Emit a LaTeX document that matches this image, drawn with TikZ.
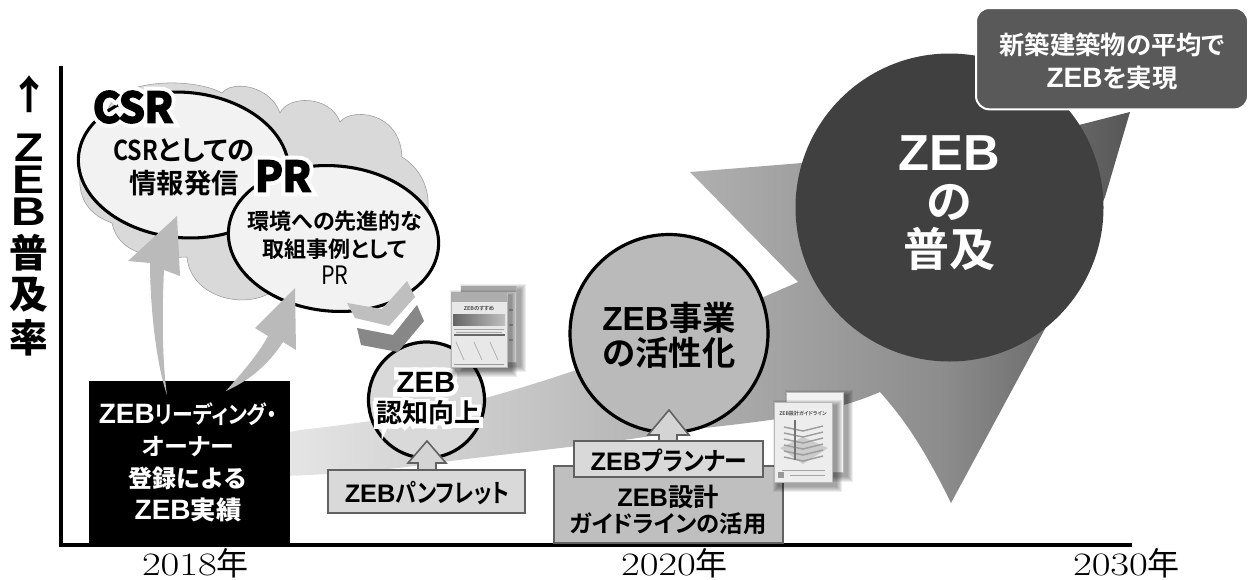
\documentclass[tikz,border=0pt]{standalone}
\usepackage{fontspec}
\usetikzlibrary{shapes.geometric}
\setmainfont{Liberation Sans}
\newfontfamily\jp[RawFeature={+palt},BoldFont={Noto Sans CJK JP Bold}]{Noto Sans CJK JP}
\newfontfamily\jpfull{Noto Sans CJK JP}
\newfontfamily\jph[RawFeature={+palt},UprightFont={Noto Sans CJK JP Bold},FakeBold=30]{Noto Sans CJK JP}
\newfontfamily\jpheavy[UprightFont={Noto Sans CJK JP Bold},FakeBold=5]{Noto Sans CJK JP}
\newfontfamily\jpheavyh[UprightFont={Noto Sans CJK JP Bold},FakeBold=24]{Noto Sans CJK JP}
\newfontfamily\ar{Liberation Sans}
\newfontfamily\arh[UprightFont={Liberation Sans Bold},FakeBold=30]{Liberation Sans}
\newfontfamily\yr[FakeStretch=1.25]{Latin Modern Roman}
\newcommand\fs[2]{\fontsize{#1}{#2}\selectfont}
\newcommand\latn[1]{{\ar\bfseries #1}}
\newcommand\cond[2]{\scalebox{#1}[1]{#2}}
\definecolor{ca}{gray}{0.90}
\definecolor{cb}{gray}{0.69}
\definecolor{cc}{gray}{0.585}
\definecolor{cd}{gray}{0.55}
\definecolor{ce}{gray}{0.44}
\definecolor{cf}{gray}{0.34}
\pgfdeclarehorizontalshading{bigarrow}{100bp}{color(0bp)=(ca);color(25bp)=(ca);color(48.75bp)=(cb);color(60bp)=(cc);color(64bp)=(cd);color(69.6bp)=(ce);color(75bp)=(cf);color(100bp)=(cf)}
\tikzset{
 x=0.75pt,y=-0.75pt,
 inner sep=0pt,outer sep=0pt,
 body/.style={font=\jp\bfseries,align=center,text=black},
 rev/.style={font=\jp\bfseries,align=center,text=white},
 axisline/.style={line width=2.4pt,black},
 bubble/.style={ellipse,draw=black,line width=2.3pt,fill=black!5,minimum width=158pt,minimum height=109pt,rotate=-5},
 disc/.style={circle,draw=black,line width=2.4pt},
 plate/.style={rectangle,draw=black!62,line width=1.5pt},
 blockarrow/.style={draw=black!62,line width=1.2pt,fill=black!17},
 thinarrow/.style={fill=black!27},
 page/.style={fill=black!9,draw=black!28,line width=0.4pt},
 year/.style={font=\yr\fs{24.5}{26},anchor=west},
}
\newcommand\softshadow[4]{%
 \foreach \g in {6,5,4,3,2,1}{\fill[black,opacity=0.07] ({#1+5-\g},{#2+4-\g}) rectangle ({#3+4+\g},{#4+4+\g});}}
\begin{document}
\begin{tikzpicture}
\useasboundingbox (0,0) rectangle (1249,579);
% sweeping arrow
\path[shading=bigarrow] (285,433) -- (300,430) .. controls (370,422) and (440,412) .. (489,397)
 .. controls (600,366) and (700,325) .. (798,282) -- (690,172) -- (802,163) -- (1079,125) -- (1130,112)
 -- (1105,197) -- (1046,327) -- (951,503) .. controls (925,450) and (905,420) .. (880,392)
 .. controls (820,418) and (750,422) .. (689,430) .. controls (600,445) and (520,452) .. (443,462)
 .. controls (390,470) and (340,474) .. (285,476) -- cycle;
% axes
\draw[axisline] (61,66) -- (61,545) -- (1132,545);
% vertical label
\node[font=\jpfull\bfseries\fs{30}{32}] (uparrow) at (29,94) {↑};
\node[font=\jpfull\bfseries\fs{29}{24},align=center] (ylabel) at (29,245) {\cond{1.2}{\ar\bfseries\fs{30}{24}Z}\\\cond{1.2}{\ar\bfseries\fs{30}{24}E}\\\cond{1.2}{\ar\bfseries\fs{30}{24}B}\\[5pt]普\\[4pt]及\\[4pt]率};
% cloud
\path[fill=black!15,draw=black!40,line width=0.4pt]
 (110,105) .. controls (125,78) and (195,78) .. (222,93)
 .. controls (232,80) and (270,85) .. (280,113)
 .. controls (288,95) and (330,95) .. (340,122)
 .. controls (350,108) and (400,110) .. (402,157)
 .. controls (420,168) and (432,190) .. (427,215)
 -- (400,280) -- (270,293)
 .. controls (240,310) and (190,295) .. (187,257)
 .. controls (165,258) and (120,260) .. (112,223)
 .. controls (90,215) and (78,200) .. (80,175) -- cycle;
\node[bubble] (csrshape) at (183.5,165) {};
\node[bubble] (prshape) at (333.5,238.5) {};
\node[font=\jpheavyh\fs{31}{32},text=white] (csrhalo) at (133,107) {CSR};
\node[font=\jpheavy\fs{31}{32}] (csrhead) at (133,107) {CSR};
\node[font=\jpheavyh\fs{31}{32},text=white] (prhalo) at (283,176) {PR};
\node[font=\jpheavy\fs{31}{32}] (prhead) at (283,176) {PR};
\node[body,font=\jp\bfseries\fs{20.5}{24.8}] (csrtext) at (184,167) {\cond{0.85}{CSR}としての\\情報発信};
\node[body,font=\jp\bfseries\fs{16.5}{20.6}] (prtext) at (335,248) {環境への先進的な\\取組事例として\\{\jp\mdseries\cond{0.85}{\fs{19}{20.6}PR}}};
% black box
\node[rectangle,fill=black,anchor=north west,minimum width=151pt,minimum height=122pt] (lead) at (89,381) {};
\node[rev,font=\jp\bfseries\fs{18}{24}] (leadtext) at (188,462) {{\ar\bfseries\fs{21}{24}ZEB}\cond{0.87}{リーディング・}\\オーナー\\{\jpfull\bfseries 登録による}\\{\ar\bfseries\fs{21}{24}ZEB}{\jpfull\bfseries\fs{19}{24}実績}};
% curved arrows
\fill[thinarrow] (167,395) .. controls (155,360) and (150,300) .. (150,263) -- (128,261) -- (177,216) -- (180,276) -- (164,270) .. controls (162,310) and (162,360) .. (167,395) -- cycle;
\fill[thinarrow] (226,391) .. controls (240,375) and (258,355) .. (268,336) -- (255,328) -- (295,288) -- (296,350) -- (283,342) .. controls (268,365) and (250,380) .. (226,391) -- cycle;
% small circle
\node[disc,fill=black!15,minimum size=87pt] (aware) at (426.5,400) {};
\node[font=\arh\fs{22}{24},text=white] (awareh1) at (426,382) {ZEB};
\node[font=\ar\bfseries\fs{22}{24}] (aware1) at (426,382) {ZEB};
\node[font=\jph\fs{19.5}{24},text=white] (awareh2) at (428,413) {認知向上};
\node[font=\jp\bfseries\fs{19.5}{24}] (aware2) at (428,413) {認知向上};
% chevrons
\fill[black!25] (347,303) -- (382,309) -- (407,281) -- (415,297) -- (389,326) -- (355,318) -- cycle;
\fill[black!47] (357,328) -- (393,335) -- (417,305) -- (424,321) -- (398,352) -- (361,345) -- cycle;
% pamphlet
\softshadow{461}{286}{516}{362}
\fill[page] (461,286) rectangle (516,362);
\fill[black!35] (461,286) rectangle (516,292);
\draw[black!30,line width=1pt] (509,310) -- (513,310) (509,325) -- (513,325) (509,340) -- (513,340);
\softshadow{451}{292}{507}{367}
\fill[page] (451,292) rectangle (507,367);
\fill[black!32] (451,292) rectangle (507,302);
\node[font=\jp\bfseries\fs{4}{5},text=black!70] (pamphtitle) at (479,309) {ZEBのすすめ};
\fill[left color=black!60,right color=black!25] (453,314) rectangle (505,325);
\draw[black!35,line width=0.5pt] (454,329) -- (504,329) (456,332) -- (502,332);
\draw[black!60,line width=1pt] (454,335) -- (505,335);
\draw[black!30,line width=0.6pt] (456,342) -- (464,360) (474,342) -- (482,360) (490,342) -- (498,360);
\draw[black!40,line width=0.7pt] (454,364) -- (504,364);
% big disc
\node[disc,fill=black!27,minimum size=148.5pt] (boost) at (669,333.5) {};
\node[body,font=\jp\bfseries\fs{25}{26.5}] (boosttext) at (669,335) {\latn{ZEB}事業\\の活性化};
% design plate
\node[plate,fill=black!25,anchor=north west,minimum width=171.5pt,minimum height=58pt] (guide) at (554,466) {};
\node[body,font=\jp\bfseries\fs{19}{19}] (guidetext) at (668,510) {\latn{ZEB}設計\\{\fs{17.5}{19}ガイドラインの活用}};
% block arrows
\path[blockarrow] (418,472) -- (418,463) -- (408,463) -- (427,441) -- (446,463) -- (436,463) -- (436,472) -- cycle;
\path[blockarrow] (659,443) -- (659,435) -- (648,435) -- (669,410) -- (689,435) -- (677,435) -- (677,443) -- cycle;
% plates
\node[plate,fill=black!15,anchor=north west,minimum width=148pt,minimum height=32pt] (pamph) at (328,470) {};
\node[body,font=\jp\bfseries\fs{19}{20}] (pamphtext) at (427,493) {\latn{ZEB}\cond{0.83}{パンフレット}};
\node[plate,fill=black!15,anchor=north west,minimum width=142pt,minimum height=27pt] (planner) at (574,441) {};
\node[body,font=\jp\bfseries\fs{19}{20}] (plannertext) at (669,460) {\latn{ZEB}\cond{0.9}{プランナー}};
% guideline booklet
\softshadow{786}{392}{843}{472}
\fill[page,fill=black!5] (786,392) rectangle (843,472);
\softshadow{774}{402}{832}{482}
\fill[page,fill=black!7] (774,402) rectangle (832,482);
\node[font=\jp\bfseries\fs{3.8}{5},text=black!70] (bookttl) at (803,414) {ZEB設計ガイドライン};
\fill[black!20] (780,448) -- (803,437) -- (828,448) -- (803,464) -- cycle;
\foreach \yy in {424,430,436,442,448,454}{
 \draw[black!38,line width=1.1pt] (784,{\yy+3}) -- (803,{\yy+7}) -- (823,{\yy+2});}
\draw[black!55,line width=1.2pt] (795,420) -- (795,460);
\draw[black!35,line width=0.5pt] (782,470) -- (825,470) (790,475) -- (825,475);
\fill[black!40] (778,472) rectangle (784,478);
% big circle and callout
\node[circle,fill=black!75,minimum size=231pt] (spread) at (949.5,207.5) {};
\node[rev,font=\jp\bfseries\fs{34.5}{36}] (spreadtext) at (949,203) {{\ar\bfseries\fs{38}{36}ZEB}\\の\\普及};
\node[rectangle,rounded corners=10pt,draw=white,line width=1.5pt,fill=black!65,anchor=north west,minimum width=204pt,minimum height=76pt] (goal) at (976,8) {};
\node[rev,font=\jp\bfseries\fs{19}{24.6}] (goaltext) at (1112,61) {新築建築物の平均で\\{\ar\bfseries\fs{21}{24.6}ZEB}を実現};
% years
\node[year] (y2018) at (142,565) {2018\smash{\jpfull\fs{24}{26}年}};
\node[year] (y2020) at (621,565) {2020\smash{\jpfull\fs{24}{26}年}};
\node[year] (y2030) at (1073,565) {2030\smash{\jpfull\fs{24}{26}年}};
\end{tikzpicture}
\end{document}
